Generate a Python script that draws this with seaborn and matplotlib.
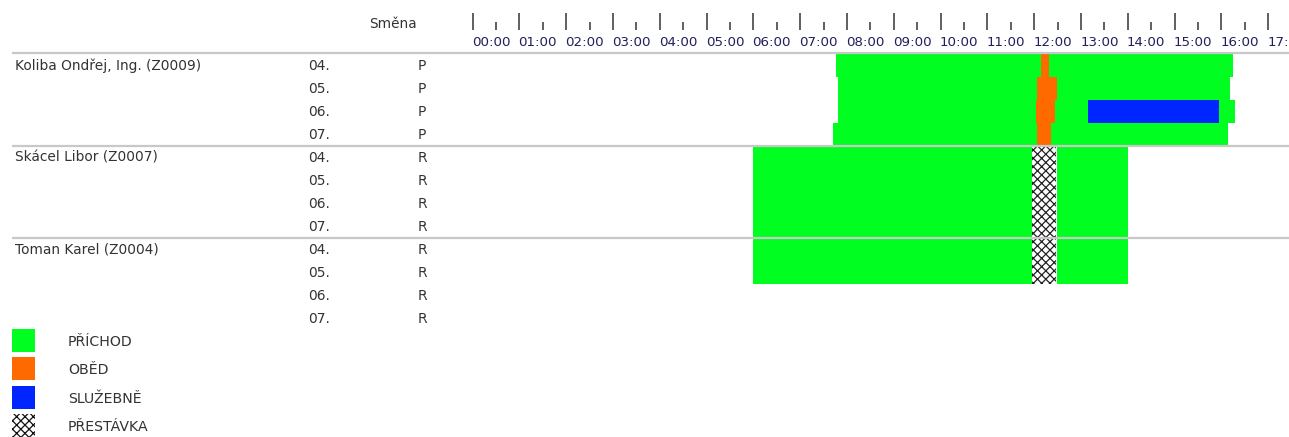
import numpy as np
import matplotlib
matplotlib.use("Agg")
import matplotlib.pyplot as plt
import matplotlib.patches as mpatches
import matplotlib.transforms as mtransforms
import seaborn as sns

# -----------------------------
# data
# -----------------------------
employees = ["Koliba Ondřej, Ing. (Z0009)", "Skácel Libor (Z0007)", "Toman Karel (Z0004)"]
days = ["04.", "05.", "06.", "07."]
shifts = ["P", "R", "R"]
hour_labels = ["%02d:00" % h for h in range(18)]

# bars: row index (0 = first row), start hour, end hour
prichod_row = [0, 1, 2, 3, 4, 5, 6, 7, 8, 9, 4, 5, 6, 7, 8, 9]
prichod_start = [7.76, 7.80, 7.80, 7.70, 6.0, 6.0, 6.0, 6.0, 6.0, 6.0,
                 12.49, 12.49, 12.49, 12.49, 12.49, 12.49]
prichod_end = [16.24, 16.18, 16.29, 16.14, 11.96, 11.96, 11.96, 11.96, 11.96, 11.96,
               14.0, 14.0, 14.0, 14.0, 14.0, 14.0]

obed_row = [0, 1, 2, 3]
obed_start = [12.14, 12.06, 12.03, 12.06]
obed_end = [12.31, 12.49, 12.44, 12.36]

sluzebne_row = [2]
sluzebne_start = [13.15]
sluzebne_end = [15.95]

prestavka_row = [4, 5, 6, 7, 8, 9]
prestavka_start = [11.96, 11.96, 11.96, 11.96, 11.96, 11.96]
prestavka_end = [12.46, 12.46, 12.46, 12.46, 12.46, 12.46]

legend_labels = ["PŘÍCHOD", "OBĚD", "SLUŽEBNĚ", "PŘESTÁVKA"]
colors = {"PŘÍCHOD": "#00FF21", "OBĚD": "#FF6A00", "SLUŽEBNĚ": "#0026FF"}

# -----------------------------
# figure
# -----------------------------
sns.set_theme(style="white")
plt.rcParams["font.family"] = ["DejaVu Sans"]
plt.rcParams["hatch.linewidth"] = 0.9

W, H = 1289, 437
fig = plt.figure(figsize=(W / 100, H / 100), dpi=100)
ax = fig.add_axes([0, 0, 1, 1])
ax.set_axis_off()

# pixel layout -> data units
x0_px, hour_px = 472.7, 46.8
row_top_px, row_px = 54, 23
ax.set_xlim((0 - x0_px) / hour_px, (W - x0_px) / hour_px)
ax.set_ylim((H - row_top_px) / row_px, (0 - row_top_px) / row_px)


def px_y(p):
    return (p - row_top_px) / row_px


def draw(rows, starts, ends, **kw):
    r = np.array(rows)
    s = np.array(starts)
    e = np.array(ends)
    ax.barh(r + 0.5, e - s, left=s, height=1.0, linewidth=0, **kw)


draw(prichod_row, prichod_start, prichod_end, color=colors["PŘÍCHOD"], zorder=2)
draw(obed_row, obed_start, obed_end, color=colors["OBĚD"], zorder=3)
draw(sluzebne_row, sluzebne_start, sluzebne_end, color=colors["SLUŽEBNĚ"], zorder=3)
draw(prestavka_row, prestavka_start, prestavka_end, facecolor="white",
     edgecolor="#222222", hatch="xxxx", zorder=3)

# separators
x_left = (12 - x0_px) / hour_px
ax.hlines([-0.04, 4, 8], x_left, ax.get_xlim()[1], color="#c8c8c8", lw=1.6, zorder=5)

# time axis
hours = np.arange(len(hour_labels))
ax.vlines(hours, px_y(12.7), px_y(30), color="#444444", lw=1.2)
ax.vlines(hours + 0.5, px_y(21.7), px_y(30), color="#444444", lw=1.2)
for h, lab in zip(hours, hour_labels):
    ax.text(h - 0.02, px_y(42), lab, ha="left", va="center", fontsize=9.6,
            color="#1f1f5c", clip_on=False)

# left columns
tr = mtransforms.blended_transform_factory(ax.transAxes, ax.transData)
ax.text(392.5 / W, px_y(24), "Směna", transform=tr, ha="center", va="center",
        fontsize=9.8, color="#333333")
for i, name in enumerate(employees):
    for j, d in enumerate(days):
        r = i * len(days) + j + 0.5
        if j == 0:
            ax.text(15 / W, r, name, transform=tr, ha="left", va="center",
                    fontsize=9.9, color="#333333")
        ax.text(308 / W, r, d, transform=tr, ha="left", va="center",
                fontsize=9.9, color="#333333")
        ax.text(422 / W, r, shifts[i], transform=tr, ha="center", va="center",
                fontsize=9.9, color="#333333")

# legend (square 23 px, row pitch 28 px)
for k, lab in enumerate(legend_labels):
    top = 329 + 28.3 * k
    if lab in colors:
        patch = mpatches.Rectangle((12 / W, 1 - (top + 23) / H), 23 / W, 23 / H,
                                   transform=ax.transAxes, facecolor=colors[lab],
                                   linewidth=0, clip_on=False)
    else:
        patch = mpatches.Rectangle((12 / W, 1 - (top + 23) / H), 23 / W, 23 / H,
                                   transform=ax.transAxes, facecolor="white",
                                   edgecolor="#111111", hatch="xxxx", linewidth=0,
                                   clip_on=False)
    ax.add_patch(patch)
    ax.text(68 / W, 1 - (top + 13) / H, lab, transform=ax.transAxes, ha="left",
            va="center", fontsize=10.2, color="#333333")

fig.savefig("out.png", dpi=100)
